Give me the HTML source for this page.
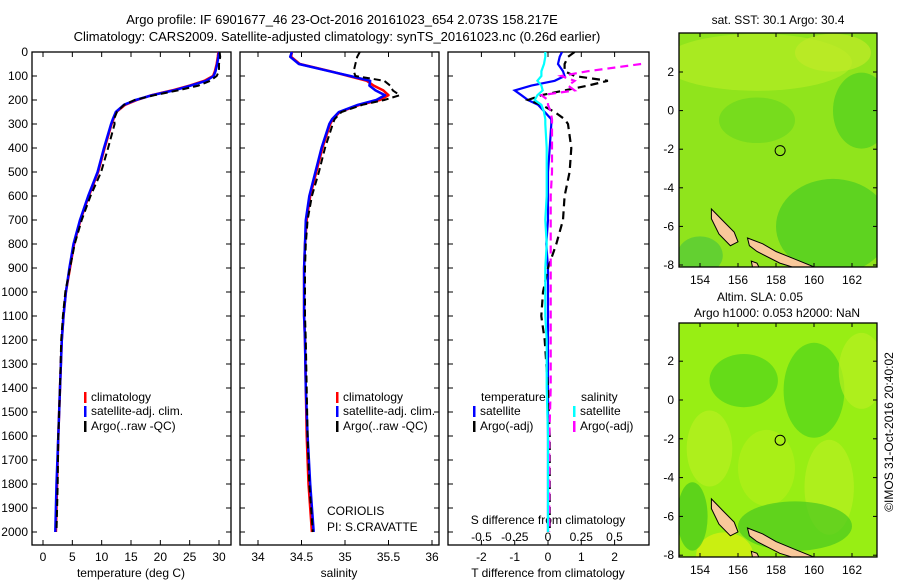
<!DOCTYPE html>
<html><head><meta charset="utf-8">
<style>
body{margin:0;background:#fff;width:900px;height:580px;overflow:hidden}
svg{display:block;font-family:"Liberation Sans",sans-serif}
text{font-size:12px;fill:#000}
</style></head>
<body>
<svg id="fig" width="900" height="580" xmlns="http://www.w3.org/2000/svg">
<text x="342" y="24" text-anchor="middle" style="font-size:13px">Argo profile: IF 6901677_46 23-Oct-2016 20161023_654 2.073S 158.217E</text>
<text x="337" y="41" text-anchor="middle" style="font-size:13px">Climatology: CARS2009. Satellite-adjusted climatology: synTS_20161023.nc (0.26d earlier)</text>
<text x="778" y="24" text-anchor="middle">sat. SST: 30.1 Argo: 30.4</text>
<text x="760" y="301" text-anchor="middle">Altim. SLA: 0.05</text>
<text x="777" y="317" text-anchor="middle">Argo h1000: 0.053 h2000: NaN</text>
<text transform="translate(893,432) rotate(-90)" text-anchor="middle">©IMOS 31-Oct-2016 20:40:02</text>
<g id="g"></g>
</svg>
<script>
// ---- data ----
const depth = [0,20,50,80,100,120,140,160,180,200,220,250,280,300,400,500,600,700,800,900,1000,1100,1200,1400,1600,1800,2000];
const tempClim = [29.9,29.8,29.6,29.3,29.0,27.5,25.0,22.0,18.5,16.0,14.0,12.5,12.0,11.7,10.5,9.4,7.8,6.4,5.3,4.6,3.9,3.5,3.2,2.9,2.6,2.4,2.2];
const tempSat  = [30.0,29.9,29.7,29.4,29.1,27.8,25.2,22.3,18.6,15.8,13.8,12.4,11.9,11.6,10.4,9.3,7.7,6.3,5.2,4.5,3.9,3.5,3.2,2.9,2.6,2.3,2.1];
const tempArgo = [30.1,30.2,30.0,30.0,29.6,28.5,26.5,23.0,19.0,15.6,13.8,12.6,12.1,12.2,11.1,9.9,8.1,6.6,5.4,4.6,3.8,3.4,3.1,2.9,2.6,2.5,2.3];
const salClim = [34.39,34.38,34.48,34.83,35.04,35.25,35.33,35.44,35.50,35.40,35.17,34.94,34.86,34.83,34.74,34.67,34.60,34.56,34.54,34.53,34.53,34.53,34.54,34.55,34.56,34.58,34.62];
const salSat  = [34.39,34.37,34.47,34.82,35.06,35.29,35.28,35.35,35.46,35.36,35.15,34.93,34.85,34.82,34.73,34.66,34.59,34.55,34.54,34.53,34.53,34.53,34.54,34.55,34.57,34.60,34.64];
const salArgo = [35.17,35.14,35.12,35.10,35.12,35.45,35.52,35.55,35.63,35.45,35.20,34.96,34.88,34.86,34.77,34.70,34.62,34.57,34.55,34.54,34.54,34.54,34.55,34.56,34.57,34.59,34.63];
const dTsat  = [0.42,0.35,0.3,0.45,0.5,0.2,-0.5,-1.0,-0.8,-0.6,-0.3,-0.1,0.1,0.1,0.05,0.0,0.0,0.0,-0.05,0.0,0.0,0.0,0.0,0.0,0.0,0.0,0.0];
const dTargo = [0.8,0.6,0.5,0.5,0.8,1.8,1.2,0.5,-0.2,-0.6,-0.2,0.2,0.5,0.6,0.7,0.65,0.5,0.45,0.25,0.0,-0.15,-0.2,-0.1,0.0,0.05,0.05,0.05];
const dSsat  = [-0.02,-0.02,-0.03,-0.05,-0.05,-0.08,-0.05,-0.04,-0.08,-0.1,-0.05,-0.03,-0.02,-0.02,-0.01,-0.01,-0.01,-0.02,-0.01,-0.02,-0.02,-0.02,-0.01,-0.01,0.0,0.0,0.0];
const dSargo = [null,null,0.7,0.3,0.1,0.2,0.15,0.2,-0.05,0.0,0.0,0.02,0.03,0.03,0.03,0.03,0.02,0.02,0.02,0.02,0.02,0.02,0.02,0.02,0.01,0.01,0.01];
const depthTicks = [0,100,200,300,400,500,600,700,800,900,1000,1100,1200,1300,1400,1500,1600,1700,1800,1900,2000];
const tempTicks = [0,5,10,15,20,25,30];
const salTicks = [34,34.5,35,35.5,36];
const dTTicks = [-2,-1,0,1,2];
const dSTicks = [-0.5,-0.25,0,0.25,0.5];
const dSTickLabels = ["-0.5","-0.25","0","0.25","0.5"];
const lonTicks = [154,156,158,160,162];
const latTicks1 = [2,0,-2,-4,-6,-8];
const latTicks2 = [2,0,-2,-4,-6,-8];
const argoPos = [158.217,-2.073];

// ---- helpers ----
const NS="http://www.w3.org/2000/svg", G=document.getElementById('g');
function mk(tag,attrs,parent){const e=document.createElementNS(NS,tag);for(const k in attrs)e.setAttribute(k,attrs[k]);(parent||G).appendChild(e);return e;}
const Y0=52, Y1=545;
const yD = d => 52 + d*0.24;
const xT = t => 43 + t*5.867;
const xS = s => 258 + (s-34)*87;
const xDT = v => 548 + v*33.3;
const xDS = v => 548 + v*133;

function frame(x0,x1,name){
  const r=mk('rect',{x:x0,y:Y0,width:x1-x0,height:Y1-Y0,fill:'none',stroke:'#000','stroke-width':1.3});
  
  
  depthTicks.forEach(d=>{mk('line',{x1:x0,x2:x0+5,y1:yD(d),y2:yD(d),stroke:'#000'});mk('line',{x1:x1,x2:x1-5,y1:yD(d),y2:yD(d),stroke:'#000'});});
}
function xticks(vals,fx,x0,labels,ly){
  vals.forEach((v,i)=>{const x=fx(v);
    mk('line',{x1:x,x2:x,y1:Y0,y2:Y0+5,stroke:'#000'});mk('line',{x1:x,x2:x,y1:Y1,y2:Y1-5,stroke:'#000'});
    if(labels){const t=mk('text',{x:x,y:ly,'text-anchor':'middle'});t.textContent=labels[i];
      
      }
  });
}
function line(vals,fx,color,w,dash,name){
  let d='',pen=false;
  vals.forEach((v,i)=>{if(v===null){pen=false;return;}d+=(pen?'L':'M')+fx(v).toFixed(1)+','+yD(depth[i]).toFixed(1);pen=true;});
  const p=mk('path',{d:d,fill:'none',stroke:color,'stroke-width':w,'stroke-dasharray':dash||'none','stroke-linejoin':'round'});
  
  
}
function txt(x,y,s,name,anchor){const t=mk('text',{x:x,y:y,'text-anchor':anchor||'start'});t.textContent=s;
  
  return t;}
function legend(x,y,color,label,name){mk('rect',{x:x,y:y-9,width:2.5,height:11,fill:color});txt(x+7,y,label,name);}

const defs=mk('defs',{});
const cp=mk('clipPath',{id:'c3'},defs);mk('rect',{x:448,y:Y0,width:201,height:Y1-Y0},cp);

// Panel 1
frame(32,231,'temperature-panel');
depthTicks.forEach(d=>txt(28,yD(d)+4,String(d),'depth-tick-label','end'));
xticks(tempTicks,xT,32,tempTicks.map(String),561);
txt(131,577,'temperature (deg C)','temperature-x-axis-title','middle');
line(tempClim,xT,'#f00',2.5,null,'temperature-climatology-line');
line(tempSat,xT,'#00f',2.5,null,'temperature-satellite-line');
line(tempArgo,xT,'#000',2,'7,4','temperature-argo-line');
legend(84,401,'#f00','climatology','legend-climatology');
legend(84,415,'#00f','satellite-adj. clim.','legend-satellite');
legend(84,430,'#000','Argo(..raw -QC)','legend-argo');

// Panel 2
frame(240,439,'salinity-panel');
xticks(salTicks,xS,240,['34','34.5','35','35.5','36'],561);
txt(339,577,'salinity','salinity-x-axis-title','middle');
line(salClim,xS,'#f00',2.5,null,'salinity-climatology-line');
line(salSat,xS,'#00f',2.5,null,'salinity-satellite-line');
line(salArgo,xS,'#000',2,'7,4','salinity-argo-line');
legend(336,401,'#f00','climatology','legend-climatology-2');
legend(336,415,'#00f','satellite-adj. clim.','legend-satellite-2');
legend(336,430,'#000','Argo(..raw -QC)','legend-argo-2');
txt(327,515,'CORIOLIS','coriolis-label');
txt(327,531,'PI: S.CRAVATTE','pi-label');

// Panel 3
frame(448,649,'difference-panel');
xticks(dTTicks,xDT,448,['-2','-1','0','1','2'],561);
dSTicks.forEach((v,i)=>{txt(xDS(v),541,dSTickLabels[i],'s-diff-tick-label','middle');});
txt(548,524,'S difference from climatology','s-diff-axis-title','middle');
txt(548,577,'T difference from climatology','t-diff-axis-title','middle');
const g3=mk('g',{'clip-path':'url(#c3)'});
function line3(vals,fx,color,w,dash,name){let d='',pen=false;
  vals.forEach((v,i)=>{if(v===null){pen=false;return;}d+=(pen?'L':'M')+fx(v).toFixed(1)+','+yD(depth[i]).toFixed(1);pen=true;});
  const p=mk('path',{d:d,fill:'none',stroke:color,'stroke-width':w,'stroke-dasharray':dash||'none'},g3);
  
  }
line3(dTsat,xDT,'#00f',2.2,null,'t-diff-satellite-line');
line3(dTargo,xDT,'#000',2.2,'8,5','t-diff-argo-line');
line3(dSargo,xDS,'#f0f',2.2,'8,5','s-diff-argo-line');
line3(dSsat,xDS,'#0ff',2.2,null,'s-diff-satellite-line');
txt(481,401,'temperature','legend-temperature-heading');
txt(581,401,'salinity','legend-salinity-heading');
legend(473,415,'#00f','satellite','legend-t-satellite');
legend(473,430,'#000','Argo(-adj)','legend-t-argo');
legend(573,415,'#0ff','satellite','legend-s-satellite');
legend(573,430,'#f0f','Argo(-adj)','legend-s-argo');

// Maps
const MX0=679, MX1=877;
const xL = l => 700 + (l-154)*19;
function map(y0,y1,yLat,latTicks,name,fills){
  const grp=mk('g',{});
  
  
  const cid='cm'+y0;const c=mk('clipPath',{id:cid},defs);mk('rect',{x:MX0,y:y0,width:MX1-MX0,height:y1-y0},c);
  const inner=mk('g',{'clip-path':'url(#'+cid+')'},grp);
  mk('rect',{x:MX0,y:y0,width:MX1-MX0,height:y1-y0,fill:fills[0]},inner);
  fills[1].forEach(b=>mk('ellipse',{cx:xL(b[0]),cy:yLat(b[1]),rx:b[2]*19,ry:b[3]*19,fill:b[4],opacity:0.7},inner));
  const land=[[154.6,-5.1],[155.2,-5.7],[155.8,-6.3],[156.0,-6.8],[155.6,-7.0],[155.0,-6.4],[154.6,-5.6]];
  const land2=[[156.5,-6.6],[157.3,-6.9],[158.0,-7.3],[159.0,-7.7],[160.0,-8.1],[159.5,-8.3],[158.2,-7.9],[157.0,-7.3],[156.6,-7.0]];
  const land3=[[156.7,-7.8],[157.0,-7.9],[157.2,-8.3],[156.8,-8.3]];
  [land,land2,land3].forEach(L=>mk('polygon',{points:L.map(p=>xL(p[0]).toFixed(1)+','+yLat(p[1]).toFixed(1)).join(' '),fill:'#f8c89a',stroke:'#000','stroke-width':1},inner));
  mk('circle',{cx:xL(argoPos[0]),cy:yLat(argoPos[1]),r:5,fill:'none',stroke:'#000','stroke-width':1},inner);
  mk('rect',{x:MX0,y:y0,width:MX1-MX0,height:y1-y0,fill:'none',stroke:'#000','stroke-width':1.3},grp);
  lonTicks.forEach(l=>{const x=xL(l);mk('line',{x1:x,x2:x,y1:y0,y2:y0+4,stroke:'#000'},grp);mk('line',{x1:x,x2:x,y1:y1,y2:y1-4,stroke:'#000'},grp);
    const t=mk('text',{x:x,y:y1+17,'text-anchor':'middle'},grp);t.textContent=String(l);});
  latTicks.forEach(l=>{const y=yLat(l);mk('line',{x1:MX0,x2:MX0+4,y1:y,y2:y,stroke:'#000'},grp);mk('line',{x1:MX1,x2:MX1-4,y1:y,y2:y,stroke:'#000'},grp);
    const t=mk('text',{x:MX0-5,y:y+4,'text-anchor':'end'},grp);t.textContent=String(l);});
}
const lat1 = l => 72 + (2-l)*19.3;
map(33,267,lat1,latTicks1,'sst-map',['#90e41c',[[157,2.5,5,1.5,'#b4ec24'],[161,3,2,1,'#c0ea28'],[161,-6,3,2.5,'#48cc22'],[157,-0.5,2,1.2,'#6cd81e'],[162.5,0,1.5,2,'#50d020'],[154,-7.5,1.2,1,'#50c83a']]]);
const lat2 = l => 400 + (-l)*19.4;
map(323,557,lat2,latTicks2,'sla-map',['#98ee14',[[156.3,1,1.8,1.4,'#50d41a'],[160,0.5,1.6,2.5,'#50d41a'],[154.5,-2.5,1.2,2,'#b8f020'],[157.5,-3.5,1.5,2,'#b0f018'],[160.8,-4.5,1.3,2.5,'#b8f020'],[155.3,-8,1.5,1.2,'#e0f010'],[159,-6.5,3,1.3,'#48c820'],[153.6,-6,0.8,1.8,'#44c81c'],[162.5,1.5,1.2,2,'#b8f020']]]);
</script>
</body></html>
